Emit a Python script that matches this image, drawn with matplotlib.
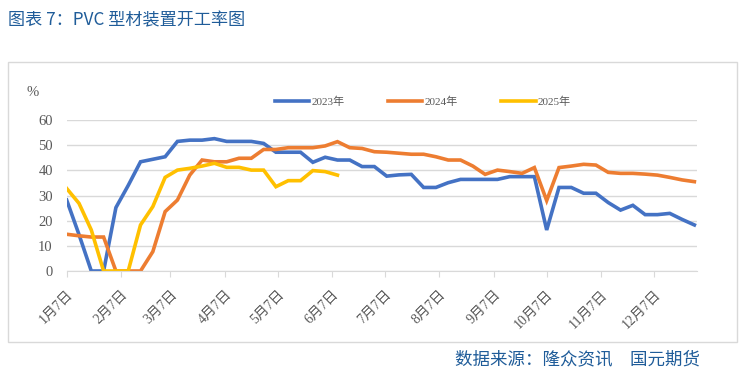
import numpy as np
import pandas as pd
import matplotlib
matplotlib.use("Agg")
import matplotlib.pyplot as plt
import matplotlib.dates as mdates
from matplotlib.patches import Rectangle

# 周度开工率 (%)，起点 1月7日，每周一个点
rate_2023 = [28.2, 14.5, 0, 0, 25.2, 34.0, 43.4, 44.4, 45.4, 51.5, 52.0, 52.0, 52.6,
             51.5, 51.5, 51.5, 50.7, 47.2, 47.2, 47.2, 43.2, 45.2, 44.1, 44.1, 41.5,
             41.5, 37.7, 38.2, 38.4, 33.2, 33.2, 35.1, 36.4, 36.4, 36.4, 36.4, 37.5,
             37.5, 37.5, 16.3, 33.2, 33.2, 30.9, 30.9, 27.2, 24.2, 26.1, 22.4, 22.4,
             22.9, 20.5, 18.3]
rate_2024 = [14.6, 14.0, 13.5, 13.5, 0, 0, 0, 7.7, 23.6, 28.2, 38.1, 44.1, 43.4,
             43.4, 44.8, 44.8, 48.3, 48.3, 49.0, 49.0, 49.0, 49.7, 51.4, 49.0, 48.7,
             47.4, 47.2, 46.8, 46.4, 46.4, 45.4, 44.1, 44.1, 41.7, 38.4, 40.1, 39.5,
             38.8, 41.1, 28.0, 41.1, 41.7, 42.4, 42.1, 39.2, 38.8, 38.8, 38.5, 38.1,
             37.2, 36.2, 35.5]
rate_2025 = [32.8, 26.9, 16.3, 0, 0, 0, 18.3, 25.6, 37.2, 40.1, 40.8, 41.7, 42.8,
             41.2, 41.2, 40.1, 40.1, 33.5, 35.9, 35.9, 39.9, 39.5, 38.1]

series = [("2023年", rate_2023, "#4472C4"),
          ("2024年", rate_2024, "#ED7D31"),
          ("2025年", rate_2025, "#FFC000")]

tick_dates = pd.date_range("2023-01-01", periods=12, freq="MS") + pd.Timedelta(days=6)
tick_labels = [f"{m}月7日" for m in range(1, 13)]

serif = ["Liberation Serif", "Noto Sans CJK SC"]
grey = "#595959"
blue_txt = "#1f5c99"

fig = plt.figure(figsize=(7.45, 3.81), dpi=100)
ax = fig.add_axes([0.0895, 0.2887, 0.8461, 0.3963])

start = pd.Timestamp("2023-01-07")
for name, vals, color in series:
    dates = pd.date_range(start, periods=len(vals), freq="7D")
    ax.plot(dates, vals, color=color, lw=2.6, label=name, solid_joinstyle="miter")

ax.set_ylim(0, 60)
ax.set_yticks(range(0, 61, 10))
ax.set_xlim(start, start + pd.Timedelta(days=358.5))
ax.set_xticks(tick_dates)
ax.set_xticklabels(tick_labels, rotation=45, ha="right", rotation_mode="anchor",
                   family=serif, fontsize=10, color=grey)
for lab in ax.get_yticklabels():
    lab.set_family(serif)
    lab.set_fontsize(10.5)
    lab.set_color(grey)

ax.grid(axis="y", color="#d9d9d9", lw=1)
ax.set_axisbelow(True)
for s in ["top", "right", "left"]:
    ax.spines[s].set_visible(False)
ax.spines["bottom"].set_color("#d9d9d9")
ax.tick_params(axis="y", length=0, pad=10)
ax.tick_params(axis="x", length=4, color="#d9d9d9", pad=8)

fig.text(0.036, 1 - 92 / 381, "%", family=serif, fontsize=10.5, color=grey,
         ha="left", va="center")

leg = fig.legend(loc="center", bbox_to_anchor=(423 / 745, 1 - 102 / 381), ncol=3,
                 frameon=False, handlelength=3.1, handletextpad=0.2, columnspacing=3.9,
                 prop={"family": serif, "size": 8})
for t in leg.get_texts():
    t.set_color(grey)

# 外框
fig.patches.append(Rectangle((8 / 745, 1 - 342 / 381), 729 / 745, 280 / 381,
                             transform=fig.transFigure, fill=False,
                             edgecolor="#d9d9d9", lw=1))

fig.text(8 / 745, 1 - 20 / 381, "图表 7：PVC 型材装置开工率图", family="Noto Sans CJK SC",
         fontsize=12.3, color=blue_txt, ha="left", va="center")
fig.text(700 / 745, 1 - 359 / 381, "数据来源：隆众资讯　国元期货", family="Noto Sans CJK SC",
         fontsize=12.6, color=blue_txt, ha="right", va="center")

fig.savefig("out.png", dpi=100)
